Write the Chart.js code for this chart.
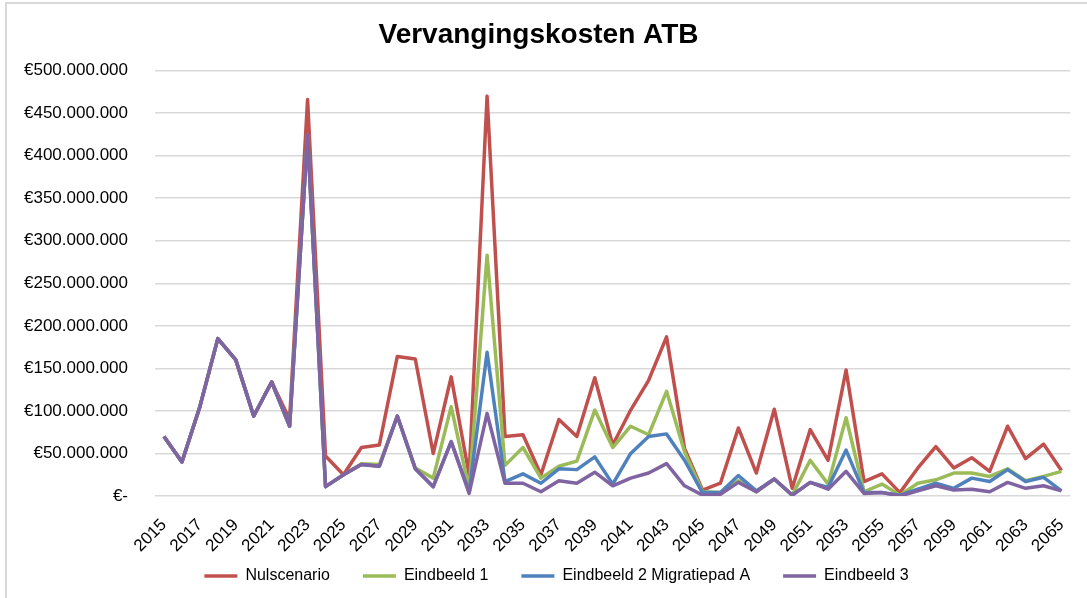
<!DOCTYPE html>
<html lang="nl">
<head>
  <meta charset="UTF-8">
  <title>Vervangingskosten ATB</title>
  <script src="https://cdn.jsdelivr.net/npm/chart.js"></script>
  <style>
    html, body { margin: 0; padding: 0; background: #fff; }
    #wrap { position: relative; width: 1087px; height: 598px; overflow: hidden; }
    #rand { position: absolute; left: 5px; top: 2px; width: 1200px; height: 700px; border: 2px solid #d9d9d9; }
    canvas { position: absolute; left: 0; top: 0; }
  </style>
</head>
<body>
  <div id="wrap">
    <div id="rand"></div>
    <canvas id="grafiek" width="1087" height="598"></canvas>
  </div>

  <script>
    // jaren op de x-as
    var jaren = ['2015','2016','2017','2018','2019','2020','2021','2022','2023','2024',
      '2025','2026','2027','2028','2029','2030','2031','2032','2033','2034',
      '2035','2036','2037','2038','2039','2040','2041','2042','2043','2044',
      '2045','2046','2047','2048','2049','2050','2051','2052','2053','2054',
      '2055','2056','2057','2058','2059','2060','2061','2062','2063','2064','2065'];

    var nulscenario = [70, 40, 105, 185, 160, 94, 134, 90, 466, 47,
      25, 57, 60, 164, 161, 50, 140, 25, 470, 70,
      72, 25, 90, 70, 139, 60, 101, 136, 187, 56,
      7, 15, 80, 27, 102, 9, 78, 42, 148, 17,
      26, 4, 33, 58, 33, 45, 29, 82, 44, 61, 30];
    var eindbeeld1 = [70, 40, 105, 185, 160, 94, 134, 82, 424, 11,
      25, 38, 37, 94, 33, 21, 105, 8, 283, 36,
      57, 21, 35, 41, 101, 57, 82, 72, 123, 52,
      5, 4, 18, 5, 20, 1, 42, 14, 92, 5,
      14, 1, 15, 19, 27, 27, 23, 32, 18, 23, 29];
    var eindbeeld2 = [70, 40, 105, 185, 160, 94, 134, 82, 424, 11,
      25, 37, 35, 94, 32, 11, 64, 5, 169, 17,
      26, 15, 32, 31, 46, 14, 50, 70, 73, 42,
      4, 4, 24, 6, 20, 1, 16, 10, 54, 4,
      4, 1, 8, 15, 9, 21, 17, 31, 17, 22, 6];
    var eindbeeld3 = [70, 40, 105, 185, 160, 94, 134, 82, 424, 11,
      25, 37, 35, 94, 32, 11, 64, 3, 97, 15,
      15, 5, 18, 15, 28, 12, 21, 27, 38, 12,
      1, 2, 16, 5, 20, 1, 16, 8, 29, 3,
      4, 0, 6, 12, 7, 8, 5, 16, 9, 12, 6];

    var reeksNamen = ['Nulscenario', 'Eindbeeld 1', 'Eindbeeld 2 Migratiepad A', 'Eindbeeld 3'];
    var reeksKleuren = ['#C0504D', '#9BBB59', '#4F81BD', '#8064A2'];
    var reeksen = [nulscenario, eindbeeld1, eindbeeld2, eindbeeld3];

    function euro(v) {
      if (v === 0) return '€-';
      return '€' + String(Math.round(v)).replace(/\B(?=(\d{3})+(?!\d))/g, '.');
    }

    var datasets = [];
    for (var i = 0; i < reeksen.length; i++) {
      datasets.push({
        label: reeksNamen[i],
        data: reeksen[i].map(function (m) { return m * 1000000; }),
        borderColor: reeksKleuren[i],
        backgroundColor: reeksKleuren[i],
        borderWidth: 3.5,
        borderJoinStyle: 'round',
        pointRadius: 0,
        tension: 0,
        order: reeksen.length - i
      });
    }

    // legenda iets verschuiven, zoals in Excel
    var legendaSchuif = {
      id: 'legendaSchuif',
      afterLayout: function (chart) {
        var lg = chart.legend;
        lg.left += 18; lg.right += 18;
        lg.top -= 23;
        lg.height = 60;
        lg.bottom = lg.top + 60;
      }
    };

    Chart.defaults.font.family = '"Liberation Sans", Arial, sans-serif';
    Chart.defaults.color = '#000';

    new Chart(document.getElementById('grafiek'), {
      type: 'line',
      data: { labels: jaren, datasets: datasets },
      plugins: [legendaSchuif],
      options: {
        responsive: false,
        animation: false,
        layout: { padding: { left: 0, right: 10, top: 0, bottom: 0 } },
        plugins: {
          title: {
            display: true,
            text: 'Vervangingskosten ATB',
            font: { size: 28, weight: 'bold' },
            color: '#000',
            padding: { top: 18, bottom: 19 }
          },
          legend: {
            position: 'bottom',
            maxHeight: 40,
            labels: {
              usePointStyle: true,
              pointStyle: 'line',
              pointStyleWidth: 33,
              boxHeight: 16,
              padding: 33,
              font: { size: 16 },
              sort: function (a, b) { return a.datasetIndex - b.datasetIndex; }
            }
          },
          tooltip: { enabled: false }
        },
        scales: {
          x: {
            offset: true,
            grid: { display: false },
            border: { display: false },
            ticks: {
              autoSkip: false,
              minRotation: 45,
              maxRotation: 45,
              padding: 11,
              font: { size: 17 },
              callback: function (val, idx) { return idx % 2 === 0 ? this.getLabelForValue(val) : ''; }
            },
            afterFit: function (scale) { scale.height = 62; }
          },
          y: {
            min: 0,
            max: 500000000,
            grid: { color: '#d9d9d9', lineWidth: 1.5, drawTicks: false },
            border: { display: false },
            ticks: {
              stepSize: 50000000,
              padding: 27,
              font: { size: 17 },
              callback: function (v) { return euro(v); }
            },
            afterFit: function (scale) { scale.width = 155; }
          }
        }
      }
    });
  </script>
</body>
</html>
